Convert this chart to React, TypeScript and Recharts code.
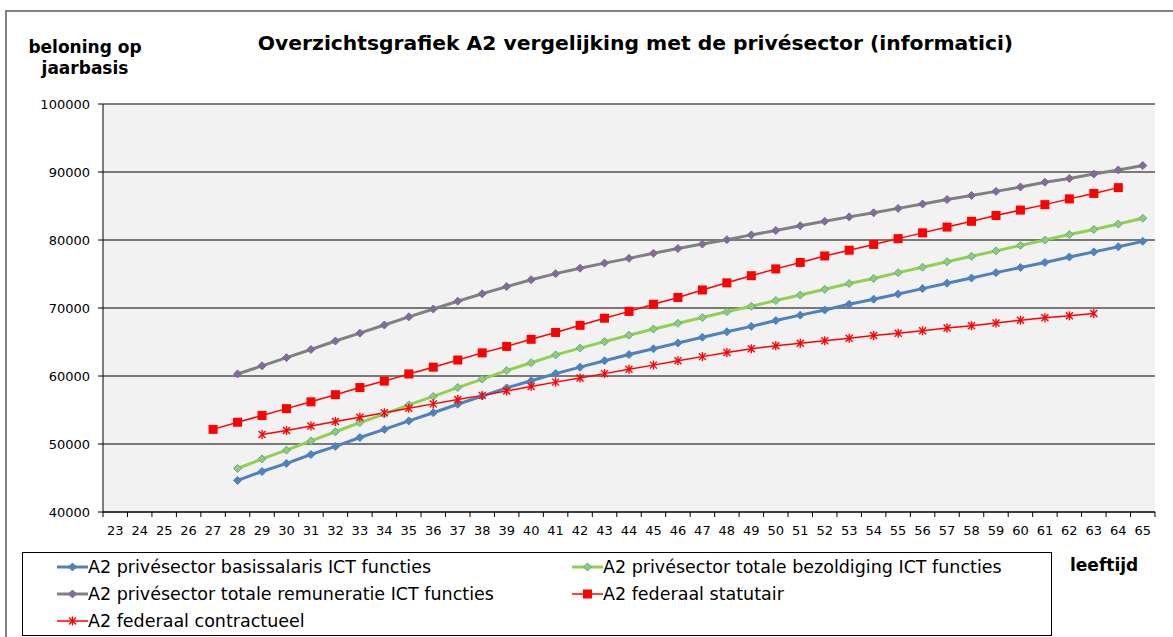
import React from "react";
import {
  LineChart,
  Line,
  CartesianGrid,
  XAxis,
  YAxis,
  ReferenceLine,
} from "recharts";

// ─── Data ─────────────────────────────────────────────────────────────────────

const AGES = [
  23, 24, 25, 26, 27, 28, 29, 30, 31, 32, 33, 34, 35, 36, 37, 38, 39, 40, 41, 42, 43, 44,
  45, 46, 47, 48, 49, 50, 51, 52, 53, 54, 55, 56, 57, 58, 59, 60, 61, 62, 63, 64, 65,
];

const Y_TICKS = [40000, 50000, 60000, 70000, 80000, 90000, 100000];

// age 28 .. 65
const BASIS = [
  44650, 45950, 47150, 48450, 49650, 50950, 52150, 53400, 54600, 55850, 57050, 58250, 59300,
  60350, 61300, 62250, 63150, 64000, 64850, 65700, 66500, 67300, 68150, 68950, 69700, 70550,
  71300, 72050, 72850, 73650, 74400, 75200, 75950, 76700, 77500, 78250, 79000, 79800,
];

// age 28 .. 65
const BEZOLDIGING = [
  46400, 47800, 49100, 50450, 51800, 53150, 54400, 55750, 57000, 58300, 59550, 60800, 61950,
  63100, 64100, 65050, 66000, 66900, 67750, 68600, 69450, 70250, 71100, 71900, 72750, 73600,
  74350, 75200, 76000, 76800, 77600, 78400, 79200, 80000, 80800, 81550, 82350, 83200,
];

// age 28 .. 65
const REMUNERATIE = [
  60300, 61500, 62700, 63900, 65150, 66300, 67500, 68700, 69850, 71000, 72100, 73150, 74150,
  75050, 75850, 76600, 77300, 78050, 78750, 79400, 80050, 80750, 81400, 82100, 82750, 83400,
  84000, 84650, 85300, 85950, 86550, 87150, 87800, 88500, 89050, 89700, 90300, 90950,
];

// age 27 .. 64
const STATUTAIR = [
  52150, 53200, 54200, 55200, 56200, 57250, 58300, 59250, 60300, 61300, 62350, 63400, 64350,
  65400, 66400, 67450, 68500, 69500, 70550, 71550, 72650, 73700, 74750, 75750, 76700, 77650,
  78500, 79350, 80200, 81050, 81900, 82750, 83600, 84400, 85200, 86050, 86850, 87700,
];

// age 29 .. 63
const CONTRACTUEEL = [
  51400, 52000, 52650, 53300, 53950, 54600, 55250, 55900, 56550, 57150, 57800, 58450, 59100,
  59700, 60350, 61000, 61600, 62250, 62850, 63450, 64000, 64450, 64800, 65200, 65550, 65950,
  66300, 66650, 67050, 67400, 67800, 68200, 68550, 68850, 69200,
];

const pick = (arr: number[], start: number, age: number) => {
  const v = arr[age - start];
  return v === undefined ? null : v;
};

const data = AGES.map((age) => ({
  age,
  basis: pick(BASIS, 28, age),
  bezoldiging: pick(BEZOLDIGING, 28, age),
  remuneratie: pick(REMUNERATIE, 28, age),
  statutair: pick(STATUTAIR, 27, age),
  contractueel: pick(CONTRACTUEEL, 29, age),
}));

// ─── Markers ──────────────────────────────────────────────────────────────────

type Mk = "diamond" | "square" | "star";

const marker = (kind: Mk, cx: number, cy: number, fill: string, stroke: string, key?: any) => {
  if (kind === "diamond") {
    const r = 4;
    return (
      <path
        key={key}
        d={`M${cx},${cy - r}L${cx + r},${cy}L${cx},${cy + r}L${cx - r},${cy}Z`}
        fill={fill}
        stroke={stroke}
        strokeWidth={1}
      />
    );
  }
  if (kind === "square") {
    const r = 4.5;
    return <rect key={key} x={cx - r} y={cy - r} width={2 * r} height={2 * r} fill={fill} />;
  }
  const r = 3.5;
  return (
    <g key={key} stroke={fill} strokeWidth={1.4}>
      <line x1={cx - r} y1={cy - r} x2={cx + r} y2={cy + r} />
      <line x1={cx - r} y1={cy + r} x2={cx + r} y2={cy - r} />
      <line x1={cx} y1={cy - r - 1} x2={cx} y2={cy + r + 1} />
    </g>
  );
};

const SERIES = [
  { key: "basis", name: "A2 privésector basissalaris ICT functies", color: "#4F81BD", width: 3, kind: "diamond" as Mk, mFill: "#4F81BD", mStroke: "#4F81BD" },
  { key: "bezoldiging", name: "A2 privésector totale bezoldiging ICT functies", color: "#92D050", width: 3, kind: "diamond" as Mk, mFill: "#9BCB5A", mStroke: "#4BACC6" },
  { key: "remuneratie", name: "A2 privésector totale remuneratie ICT functies", color: "#808080", width: 3, kind: "diamond" as Mk, mFill: "#7F6E91", mStroke: "#8064A2" },
  { key: "statutair", name: "A2 federaal statutair", color: "#FF0000", width: 1.5, kind: "square" as Mk, mFill: "#FF0000", mStroke: "#FF0000" },
  { key: "contractueel", name: "A2 federaal contractueel", color: "#FF0000", width: 1.5, kind: "star" as Mk, mFill: "#FF0000", mStroke: "#FF0000" },
];

// ─── Ticks ────────────────────────────────────────────────────────────────────

const AgeTick = ({ x, y, payload, index }: any) => {
  const half = payload?.offset || 12.2;
  const last = index === AGES.length - 1;
  return (
    <g>
      <line x1={x - half} x2={x - half} y1={y} y2={y + 5} stroke="#000" />
      {last && <line x1={x + half} x2={x + half} y1={y} y2={y + 5} stroke="#000" />}
      <text x={x} y={y + 18} dy="0.355em" textAnchor="middle" fontSize={13} fill="#000">
        {payload.value}
      </text>
    </g>
  );
};

// ─── Legend ───────────────────────────────────────────────────────────────────

const LEGEND_POS = [
  { left: 34, top: 3 },
  { left: 549, top: 3 },
  { left: 34, top: 30 },
  { left: 549, top: 30 },
  { left: 34, top: 57 },
];

const LegendBox = () => (
  <div style={s.legend}>
    {SERIES.map((sr, i) => (
      <div key={sr.key} style={{ ...s.legendItem, ...LEGEND_POS[i] }}>
        <svg width={31} height={14} style={{ flexShrink: 0 }}>
          <line x1={0} x2={31} y1={7} y2={7} stroke={sr.color} strokeWidth={sr.width} />
          {marker(sr.kind, 15.5, 7, sr.mFill, sr.mStroke)}
        </svg>
        <span>{sr.name}</span>
      </div>
    ))}
  </div>
);

// ─── Chart ────────────────────────────────────────────────────────────────────

export default function App() {
  return (
    <div style={s.page}>
      <div style={s.frame} />
      <div style={s.title}>Overzichtsgrafiek A2 vergelijking met de privésector (informatici)</div>
      <div style={s.yTitle}>
        beloning op
        <br />
        jaarbasis
      </div>
      <div style={s.xTitle}>leeftijd</div>

      <LineChart
        width={1173}
        height={637}
        data={data}
        margin={{ top: 104, right: 18, bottom: 95, left: 43 }}
        style={{ position: "absolute", left: 0, top: 0, fontFamily: "DejaVu Sans" }}
      >
        <CartesianGrid vertical={false} stroke="#000" fill="#f2f2f2" fillOpacity={1} />
        <XAxis
          dataKey="age"
          type="category"
          scale="band"
          interval={0}
          tick={<AgeTick />}
          tickLine={false}
          tickSize={0}
          tickMargin={0}
          height={30}
          axisLine={{ stroke: "#000" }}
        />
        <YAxis
          domain={[40000, 100000]}
          ticks={Y_TICKS}
          interval={0}
          width={60}
          tickSize={5}
          tickMargin={8}
          tick={{ fill: "#000", fontSize: 13 }}
          tickLine={{ stroke: "#000" }}
          axisLine={{ stroke: "#000" }}
        />
        <YAxis
          yAxisId="right"
          orientation="right"
          domain={[40000, 100000]}
          width={0}
          tick={false}
          tickLine={false}
          axisLine={{ stroke: "#808080", strokeWidth: 1.5 }}
        />
        <ReferenceLine y={100000} stroke="#808080" strokeWidth={1.5} />

        {SERIES.map((sr) => (
          <Line
            key={sr.key}
            dataKey={sr.key}
            name={sr.name}
            type="linear"
            stroke={sr.color}
            strokeWidth={sr.width}
            isAnimationActive={false}
            activeDot={false}
            dot={(p: any) =>
              p.cx == null || p.cy == null || p.value == null ? (
                <g key={`${sr.key}-${p.index}`} />
              ) : (
                marker(sr.kind, p.cx, p.cy, sr.mFill, sr.mStroke, `${sr.key}-${p.index}`)
              )
            }
          />
        ))}
      </LineChart>

      <LegendBox />
    </div>
  );
}

// ─── Styles ───────────────────────────────────────────────────────────────────

const s: Record<string, React.CSSProperties> = {
  page: { position: "absolute", left: 0, top: 0, width: 1173, height: 637, background: "#fff", overflow: "hidden", fontFamily: "DejaVu Sans" },
  frame: { position: "absolute", left: 5, top: 10, width: 1200, height: 700, borderTop: "2px solid #808080", borderLeft: "2px solid #808080" },
  title: { position: "absolute", left: 0, width: 1271, top: 31, textAlign: "center", fontSize: 20.3, fontWeight: 700, color: "#000", whiteSpace: "nowrap" },
  yTitle: { position: "absolute", left: 15, width: 140, top: 37, textAlign: "center", fontSize: 17, fontWeight: 700, lineHeight: "21px", color: "#000", whiteSpace: "nowrap" },
  xTitle: { position: "absolute", left: 1070, top: 555, fontSize: 17, fontWeight: 700, color: "#000" },
  legend: { position: "absolute", left: 22, top: 552, width: 1028, height: 82, border: "1px solid #000", background: "#fff", zIndex: 2 },
  legendItem: { position: "absolute", display: "flex", alignItems: "center", fontFamily: "DejaVu Sans", fontSize: 17.5, color: "#000", lineHeight: "22px", whiteSpace: "nowrap" },
};
